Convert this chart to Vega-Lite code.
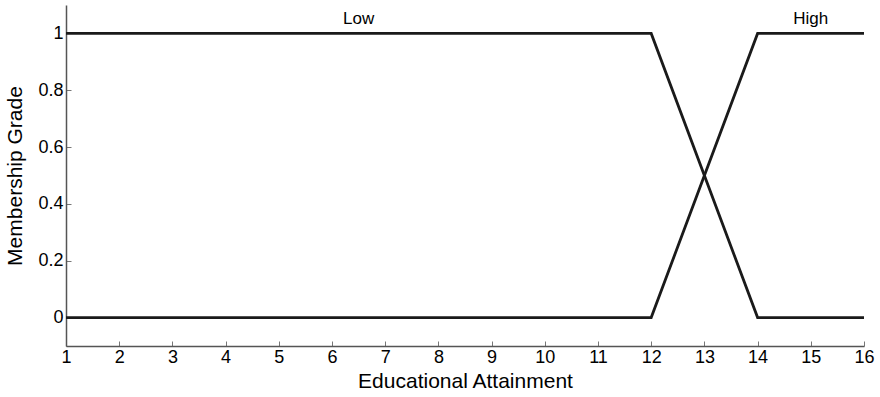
{
  "$schema": "https://vega.github.io/schema/vega-lite/v6.json",
  "width": 798,
  "height": 341,
  "autosize": {"type": "none"},
  "padding": {"left": 66, "top": 5, "right": 16, "bottom": 51},
  "background": "white",
  "config": {
    "view": {"stroke": null},
    "font": "Liberation Sans",
    "axis": {
      "grid": false,
      "domainColor": "#555",
      "domainWidth": 1.5,
      "tickColor": "#777",
      "tickSize": -5,
      "labelColor": "#000",
      "titleColor": "#000",
      "labelFont": "Liberation Sans",
      "titleFont": "Liberation Sans",
      "labelFontSize": 18,
      "titleFontSize": 21,
      "titleFontWeight": "normal"
    }
  },
  "datasets": {
    "curves": [
      {"set": "Low", "x": 1, "y": 1},
      {"set": "Low", "x": 12, "y": 1},
      {"set": "Low", "x": 14, "y": 0},
      {"set": "Low", "x": 16, "y": 0},
      {"set": "High", "x": 1, "y": 0},
      {"set": "High", "x": 12, "y": 0},
      {"set": "High", "x": 14, "y": 1},
      {"set": "High", "x": 16, "y": 1}
    ],
    "labels": [
      {"label": "Low", "x": 6.5, "y": 1.05},
      {"label": "High", "x": 15, "y": 1.05}
    ]
  },
  "layer": [
    {
      "data": {"name": "curves"},
      "mark": {"type": "line", "color": "#1a1a1a", "strokeWidth": 2.8},
      "encoding": {
        "x": {
          "field": "x", "type": "quantitative",
          "scale": {"domain": [1, 16], "nice": false, "zero": false},
          "axis": {"title": "Educational Attainment", "values": [1,2,3,4,5,6,7,8,9,10,11,12,13,14,15,16], "format": "d", "labelPadding": 7, "titlePadding": 4, "labelFlush": false}
        },
        "y": {
          "field": "y", "type": "quantitative",
          "scale": {"domain": [-0.1, 1.1], "nice": false, "zero": false},
          "axis": {"title": "Membership Grade", "values": [0, 0.2, 0.4, 0.6, 0.8, 1], "format": "~g", "labelPadding": 8, "titlePadding": 12}
        },
        "detail": {"field": "set"}
      }
    },
    {
      "data": {"name": "labels"},
      "mark": {"type": "text", "fontSize": 17, "font": "Liberation Sans", "color": "#000", "baseline": "middle"},
      "encoding": {
        "x": {"field": "x", "type": "quantitative"},
        "y": {"field": "y", "type": "quantitative"},
        "text": {"field": "label"}
      }
    }
  ]
}
